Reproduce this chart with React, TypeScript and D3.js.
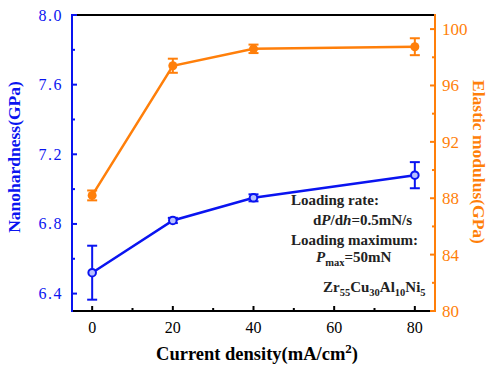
import React from "react";
import * as d3 from "d3";

const current = [0, 20, 40, 80];
const hardness = [6.52, 6.82, 6.95, 7.08];
const hardnessErr = [0.155, 0.015, 0.02, 0.075];
const modulus = [88.2, 97.4, 98.6, 98.75];
const modulusErr = [0.35, 0.5, 0.3, 0.6];
const xTicks = [0, 20, 40, 60, 80];
const xMinor = [10, 30, 50, 70];
const leftTicks = [6.4, 6.8, 7.2, 7.6, 8.0];
const leftMinor = [6.6, 7.0, 7.4, 7.8];
const rightTicks = [80, 84, 88, 92, 96, 100];
const rightMinor = [82, 86, 90, 94, 98];

const BLUE = "#0a14f0";
const ORANGE = "#ff7f0a";
const FONT = "'Liberation Serif', 'DejaVu Serif', serif";

export default function App() {
  const W = 491, H = 371;
  const L = 72, R = 435, T = 15, B = 311;
  const x = d3.scaleLinear().domain([-5, 85]).range([L, R]);
  const yL = d3.scaleLinear().domain([6.3, 8.0]).range([B, T]);
  const yR = d3.scaleLinear().domain([80, 101]).range([B, T]);

  const lineL = d3.line<number>().x((_, i) => x(current[i])).y((d) => yL(d));
  const lineR = d3.line<number>().x((_, i) => x(current[i])).y((d) => yR(d));

  const cap = 5;
  return (
    <svg width={W} height={H} style={{ position: "absolute", left: 0, top: 0, background: "#fff" }} fontFamily={FONT}>
      {/* top border */}
      <line x1={L} x2={R} y1={T} y2={T} stroke="#000" strokeWidth={2} />
      {/* bottom axis */}
      <line x1={L} x2={R} y1={B} y2={B} stroke="#000" strokeWidth={2} />
      {xTicks.map((t) => (
        <g key={"xt" + t}>
          <line x1={x(t)} x2={x(t)} y1={B} y2={B - 5} stroke="#000" strokeWidth={2} />
          <text x={x(t)} y={B + 22} textAnchor="middle" fontSize={16} fill="#000">{t}</text>
        </g>
      ))}
      {xMinor.map((t) => (
        <line key={"xm" + t} x1={x(t)} x2={x(t)} y1={B} y2={B - 3} stroke="#000" strokeWidth={2} />
      ))}
      <text x={257} y={360} textAnchor="middle" fontSize={18.5} fontWeight="bold" fill="#000">
        Current density(mA/cm<tspan dy={-7} fontSize={13}>2</tspan><tspan dy={7}>)</tspan>
      </text>

      {/* left axis */}
      <line x1={L} x2={L} y1={T - 1} y2={B + 1} stroke={BLUE} strokeWidth={2} />
      {leftTicks.map((t) => (
        <g key={"lt" + t}>
          <line x1={L} x2={L + 5} y1={yL(t)} y2={yL(t)} stroke={BLUE} strokeWidth={2} />
          <text x={L - 9} y={yL(t) + 5.5} textAnchor="end" fontSize={16} fill={BLUE} letterSpacing={1.5}>{t.toFixed(1)}</text>
        </g>
      ))}
      {leftMinor.map((t) => (
        <line key={"lm" + t} x1={L} x2={L + 3} y1={yL(t)} y2={yL(t)} stroke={BLUE} strokeWidth={2} />
      ))}
      <text transform={`translate(20,157) rotate(-90)`} textAnchor="middle" fontSize={17.5} fontWeight="bold" fill={BLUE}>
        Nanohardness(GPa)
      </text>

      {/* right axis */}
      <line x1={R} x2={R} y1={T - 1} y2={B + 1} stroke={ORANGE} strokeWidth={2} />
      {rightTicks.map((t) => (
        <g key={"rt" + t}>
          <line x1={R} x2={R - 5} y1={yR(t)} y2={yR(t)} stroke={ORANGE} strokeWidth={2} />
          <text x={R + 7} y={yR(t) + 6} textAnchor="start" fontSize={17} fill={ORANGE}>{t}</text>
        </g>
      ))}
      {rightMinor.map((t) => (
        <line key={"rm" + t} x1={R} x2={R - 3} y1={yR(t)} y2={yR(t)} stroke={ORANGE} strokeWidth={2} />
      ))}
      <text transform={`translate(473,162) rotate(90)`} textAnchor="middle" fontSize={17.5} fontWeight="bold" fill={ORANGE}>
        Elastic modulus(GPa)
      </text>

      {/* modulus series */}
      <path d={lineR(modulus) || ""} fill="none" stroke={ORANGE} strokeWidth={2.5} />
      {modulus.map((v, i) => {
        const cx = x(current[i]);
        const y1 = yR(v + modulusErr[i]);
        const y2 = yR(v - modulusErr[i]);
        return (
          <g key={"m" + i}>
            <line x1={cx} x2={cx} y1={y1} y2={y2} stroke={ORANGE} strokeWidth={2} />
            <line x1={cx - cap} x2={cx + cap} y1={y1} y2={y1} stroke={ORANGE} strokeWidth={2} />
            <line x1={cx - cap} x2={cx + cap} y1={y2} y2={y2} stroke={ORANGE} strokeWidth={2} />
            <circle cx={cx} cy={yR(v)} r={4.5} fill={ORANGE} />
          </g>
        );
      })}

      {/* hardness series */}
      <path d={lineL(hardness) || ""} fill="none" stroke={BLUE} strokeWidth={2.5} />
      {hardness.map((v, i) => {
        const cx = x(current[i]);
        const y1 = yL(v + hardnessErr[i]);
        const y2 = yL(v - hardnessErr[i]);
        return (
          <g key={"h" + i}>
            <line x1={cx} x2={cx} y1={y1} y2={y2} stroke={BLUE} strokeWidth={2} />
            <line x1={cx - cap} x2={cx + cap} y1={y1} y2={y1} stroke={BLUE} strokeWidth={2} />
            <line x1={cx - cap} x2={cx + cap} y1={y2} y2={y2} stroke={BLUE} strokeWidth={2} />
            <circle cx={cx} cy={yL(v)} r={3.8} fill="#b8c0ff" stroke={BLUE} strokeWidth={2} />
          </g>
        );
      })}

      {/* annotations */}
      <g fontSize={15} fontWeight="bold" fill="#222">
        <text x={291} y={205}>Loading rate:</text>
        <text x={313} y={225}>d<tspan fontStyle="italic">P</tspan>/d<tspan fontStyle="italic">h</tspan>=0.5mN/s</text>
        <text x={291} y={245}>Loading maximum:</text>
        <text x={316} y={262}><tspan fontStyle="italic">P</tspan><tspan fontSize={10.5} dy={4}>max</tspan><tspan dy={-4}>=50mN</tspan></text>
        <text x={323} y={292}>Zr<tspan fontSize={10.5} dy={4}>55</tspan><tspan dy={-4}>Cu</tspan><tspan fontSize={10.5} dy={4}>30</tspan><tspan dy={-4}>Al</tspan><tspan fontSize={10.5} dy={4}>10</tspan><tspan dy={-4}>Ni</tspan><tspan fontSize={10.5} dy={4}>5</tspan></text>
      </g>
    </svg>
  );
}
